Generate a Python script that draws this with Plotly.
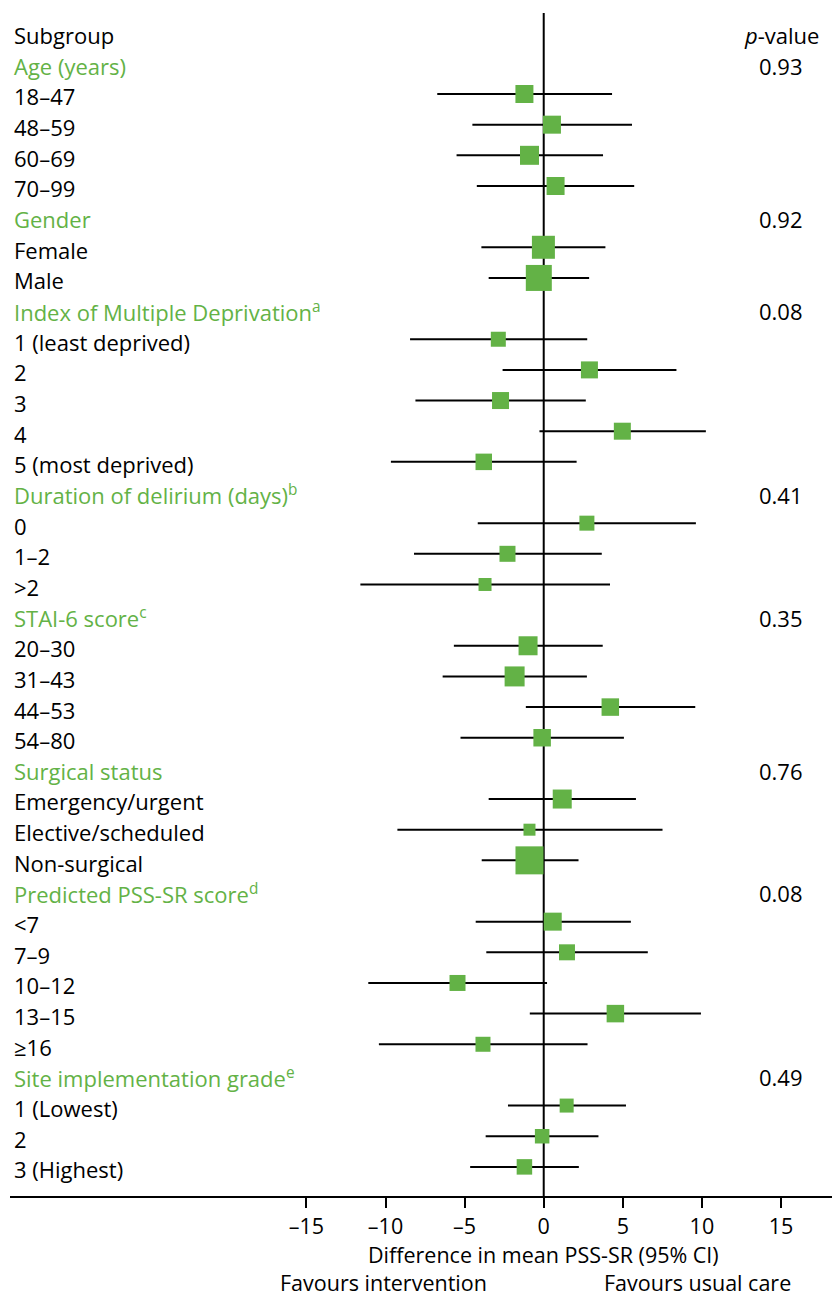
import plotly.graph_objects as go

# ---------------- data ----------------
labels = [
    "Subgroup", "Age (years)", "18–47", "48–59", "60–69", "70–99",
    "Gender", "Female", "Male",
    "Index of Multiple Deprivation<sup>a</sup>", "1 (least deprived)", "2", "3", "4", "5 (most deprived)",
    "Duration of delirium (days)<sup>b</sup>", "0", "1–2", ">2",
    "STAI-6 score<sup>c</sup>", "20–30", "31–43", "44–53", "54–80",
    "Surgical status", "Emergency/urgent", "Elective/scheduled", "Non-surgical",
    "Predicted PSS-SR score<sup>d</sup>", "<7", "7–9", "10–12", "13–15", "≥16",
    "Site implementation grade<sup>e</sup>", "1 (Lowest)", "2", "3 (Highest)",
]
# row kind: T = title row, G = group heading, S = subgroup with estimate
kinds = ["T", "G", "S", "S", "S", "S",
         "G", "S", "S",
         "G", "S", "S", "S", "S", "S",
         "G", "S", "S", "S",
         "G", "S", "S", "S", "S",
         "G", "S", "S", "S",
         "G", "S", "S", "S", "S", "S",
         "G", "S", "S", "S"]
p_values = ["<i>p</i>-value", "0.93", "", "", "", "",
            "0.92", "", "",
            "0.08", "", "", "", "", "",
            "0.41", "", "", "",
            "0.35", "", "", "", "",
            "0.76", "", "", "",
            "0.08", "", "", "", "", "",
            "0.49", "", "", ""]
estimate = [None, None, -1.22, 0.52, -0.90, 0.75,
            None, -0.02, -0.31,
            None, -2.87, 2.89, -2.73, 4.97, -3.79,
            None, 2.73, -2.29, -3.71,
            None, -0.99, -1.84, 4.21, -0.10,
            None, 1.17, -0.90, -0.90,
            None, 0.57, 1.47, -5.45, 4.53, -3.84,
            None, 1.45, -0.10, -1.22]
ci_lower = [None, None, -6.73, -4.51, -5.51, -4.23,
            None, -3.94, -3.48,
            None, -8.45, -2.60, -8.11, -0.27, -9.66,
            None, -4.17, -8.20, -11.59,
            None, -5.68, -6.39, -1.13, -5.26,
            None, -3.48, -9.25, -3.92,
            None, -4.30, -3.63, -11.09, -0.88, -10.42,
            None, -2.26, -3.67, -4.65]
ci_upper = [None, None, 4.32, 5.58, 3.75, 5.72,
            None, 3.90, 2.87,
            None, 2.75, 8.39, 2.66, 10.25, 2.08,
            None, 9.62, 3.67, 4.19,
            None, 3.73, 2.73, 9.58, 5.07,
            None, 5.83, 7.51, 2.20,
            None, 5.51, 6.58, 0.21, 9.94, 2.77,
            None, 5.20, 3.46, 2.22]
# relative weight of each subgroup (drawn as box size)
weight = [None, None, 18, 18, 19, 18,
          None, 23, 26,
          None, 15, 17, 17, 17, 16.5,
          None, 15, 16, 13,
          None, 19, 20, 17.5, 17.5,
          None, 19, 12, 28,
          None, 18, 16, 16, 17.5, 15,
          None, 14, 14.5, 15.5]
tick_values = [-15, -10, -5, 0, 5, 10, 15]
tick_labels = ["–15", "–10", "–5", "0", "5", "10", "15"]
x_title = "Difference in mean PSS-SR (95% CI)"
favours_left = "Favours intervention"
favours_right = "Favours usual care"

# ---------------- style ----------------
GREEN = "#63b246"
FONT = "Open Sans"
LABEL_SIZE = 22
TICK_SIZE = 21.5
BOTTOM_SIZE = 21.5
rows = list(range(len(labels)))

fig = go.Figure()

# CI lines
cx, cy = [], []
for i in rows:
    if kinds[i] == "S":
        cx += [ci_lower[i], ci_upper[i], None]
        cy += [i, i, None]
fig.add_trace(go.Scatter(x=cx, y=cy, mode="lines",
                         line=dict(color="black", width=2),
                         hoverinfo="skip", cliponaxis=False))

# point estimates
mi = [i for i in rows if kinds[i] == "S"]
fig.add_trace(go.Scatter(
    x=[estimate[i] for i in mi], y=mi, mode="markers",
    marker=dict(symbol="square", color=GREEN, opacity=1,
                size=[weight[i] for i in mi], line=dict(width=0)),
    cliponaxis=False))

# zero line
fig.add_shape(type="line", x0=0, x1=0, xref="x", y0=0, y1=1, yref="paper",
              line=dict(color="black", width=2), layer="below")

TEXT_DY = 0.08
for i in rows:
    col = GREEN if kinds[i] == "G" else "black"
    fig.add_annotation(x=0.003, xref="paper", y=i + TEXT_DY, yref="y",
                       text=labels[i], showarrow=False, xanchor="left",
                       yanchor="middle", font=dict(size=LABEL_SIZE, color=col, family=FONT))
    if p_values[i]:
        fig.add_annotation(x=15, xref="x", y=i + TEXT_DY, yref="y",
                           text=p_values[i], showarrow=False, xanchor="center",
                           yanchor="middle", font=dict(size=LABEL_SIZE, color="black", family=FONT))

fig.add_annotation(x=0, xref="x", y=-0.0492, yref="paper", text=x_title,
                   showarrow=False, xanchor="center", yanchor="middle", borderpad=0,
                   font=dict(size=BOTTOM_SIZE, color="black", family=FONT))
fig.add_annotation(x=-10.1, xref="x", y=-0.0729, yref="paper", text=favours_left,
                   showarrow=False, xanchor="center", yanchor="middle", borderpad=0,
                   font=dict(size=BOTTOM_SIZE, color="black", family=FONT))
fig.add_annotation(x=9.7, xref="x", y=-0.0729, yref="paper", text=favours_right,
                   showarrow=False, xanchor="center", yanchor="middle", borderpad=0,
                   font=dict(size=BOTTOM_SIZE, color="black", family=FONT))

# the page body adds an 8px offset, so the figure is drawn 8px smaller
fig.update_layout(
    width=832, height=1288,
    margin=dict(l=2, r=0, t=5, b=100),
    plot_bgcolor="white", paper_bgcolor="white",
    showlegend=False,
    font=dict(family=FONT, color="black"),
    xaxis=dict(range=[-33.74, 18.73], showline=True, linecolor="black", linewidth=2,
               ticks="outside", ticklen=10, tickwidth=2, tickcolor="black",
               tickvals=tick_values, ticktext=tick_labels,
               tickfont=dict(size=TICK_SIZE, family=FONT, color="black"),
               showgrid=False, zeroline=False, fixedrange=True),
    yaxis=dict(range=[37.95, -0.643], visible=False, showgrid=False,
               zeroline=False, fixedrange=True),
)

fig.write_html("out.html")
